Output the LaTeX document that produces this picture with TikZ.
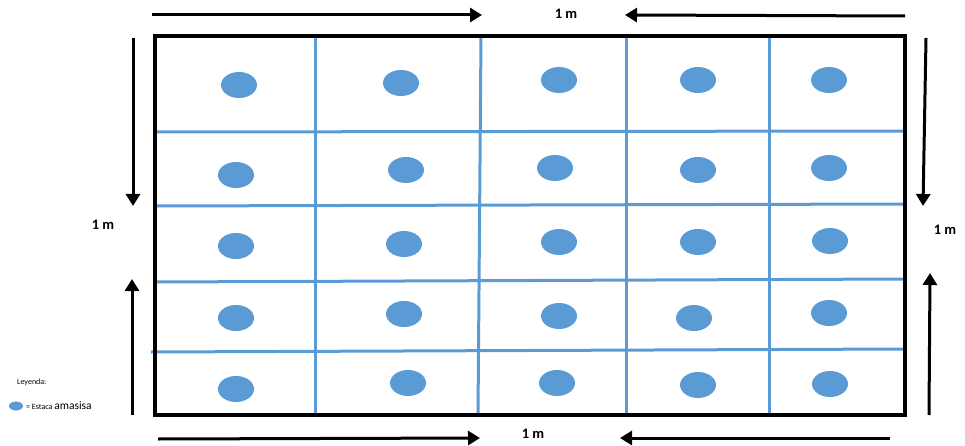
\documentclass[tikz,border=0pt]{standalone}
\usepackage{fontspec}
\setmainfont{Carlito}
\usetikzlibrary{arrows.meta,shapes.geometric}
\definecolor{gridblue}{HTML}{5B9BD5}
\tikzset{
  stake/.style={ellipse,fill=gridblue,draw=none,minimum width=36pt,minimum height=26pt,inner sep=0pt},
  gline/.style={draw=gridblue,line width=3pt},
  frame/.style={draw=black,line width=4pt},
  dimarrow/.style={draw=black,line width=3pt,-{Triangle[length=12pt,width=14pt]}},
  dimlabel/.style={font=\bfseries\fontsize{14.5}{16}\selectfont,inner sep=0pt},
}
\begin{document}
\begin{tikzpicture}[x=1pt,y=-1pt]
\useasboundingbox (0,0) rectangle (965,446);
% grid lines
\draw[gline] (315,36) -- (315,415);
\draw[gline] (481,36) -- (478,415);
\draw[gline] (626,36) -- (626,415);
\draw[gline] (769,36) -- (769,415);
\draw[gline] (155,132) -- (905,131);
\draw[gline] (155,206) -- (905,204);
\draw[gline] (155,282) -- (905,279);
\draw[gline] (151,352) -- (905,349);
% frame
\draw[frame] (155,36) rectangle (905,415);
% stakes
\node[stake] (s11) at (239,85) {};
\node[stake] (s12) at (401,83) {};
\node[stake] (s13) at (559,80) {};
\node[stake] (s14) at (698,80) {};
\node[stake] (s15) at (829,80) {};
\node[stake] (s21) at (236,175) {};
\node[stake] (s22) at (406,170) {};
\node[stake] (s23) at (555,168) {};
\node[stake] (s24) at (698,170) {};
\node[stake] (s25) at (829,168) {};
\node[stake] (s31) at (236,246) {};
\node[stake] (s32) at (404,244) {};
\node[stake] (s33) at (559,242) {};
\node[stake] (s34) at (698,242) {};
\node[stake] (s35) at (830,241) {};
\node[stake] (s41) at (236,318) {};
\node[stake] (s42) at (404,314) {};
\node[stake] (s43) at (559,316) {};
\node[stake] (s44) at (694,318) {};
\node[stake] (s45) at (829,313) {};
\node[stake] (s51) at (236,389) {};
\node[stake] (s52) at (408,383) {};
\node[stake] (s53) at (557,383) {};
\node[stake] (s54) at (698,385) {};
\node[stake] (s55) at (830,384) {};
% dimension arrows
\coordinate (t1) at (152,15); \coordinate (t2) at (482,15);
\coordinate (t3) at (905,16); \coordinate (t4) at (625,15);
\draw[dimarrow] (t1) -- (t2);
\draw[dimarrow] (t3) -- (t4);
\node[dimlabel] (ltop) at (566,14) {1 m};
\coordinate (b1) at (158,439); \coordinate (b2) at (480,438);
\coordinate (b3) at (890,438); \coordinate (b4) at (620,438);
\draw[dimarrow] (b1) -- (b2);
\draw[dimarrow] (b3) -- (b4);
\node[dimlabel] (lbot) at (533,434) {1 m};
\coordinate (l1) at (133,38); \coordinate (l2) at (133,206);
\coordinate (l3) at (132,415); \coordinate (l4) at (132,279);
\draw[dimarrow] (l1) -- (l2);
\draw[dimarrow] (l3) -- (l4);
\node[dimlabel] (lleft) at (103,225) {1 m};
\coordinate (r1) at (926,38); \coordinate (r2) at (923,206);
\coordinate (r3) at (929,415); \coordinate (r4) at (930,273);
\draw[dimarrow] (r1) -- (r2);
\draw[dimarrow] (r3) -- (r4);
\node[dimlabel] (lright) at (945,230) {1 m};
% legend
\node[font=\fontsize{8}{9}\selectfont,inner sep=0pt,anchor=west] (leg) at (17,382) {Leyenda:};
\node[ellipse,fill=gridblue,minimum width=14pt,minimum height=9pt,inner sep=0pt] (legdot) at (16,406) {};
\node[inner sep=0pt,anchor=west] (legtxt) at (26,406) {{\fontsize{8}{9}\selectfont = Estaca }{\fontsize{11.5}{12}\selectfont amasisa}};
\end{tikzpicture}
\end{document}
